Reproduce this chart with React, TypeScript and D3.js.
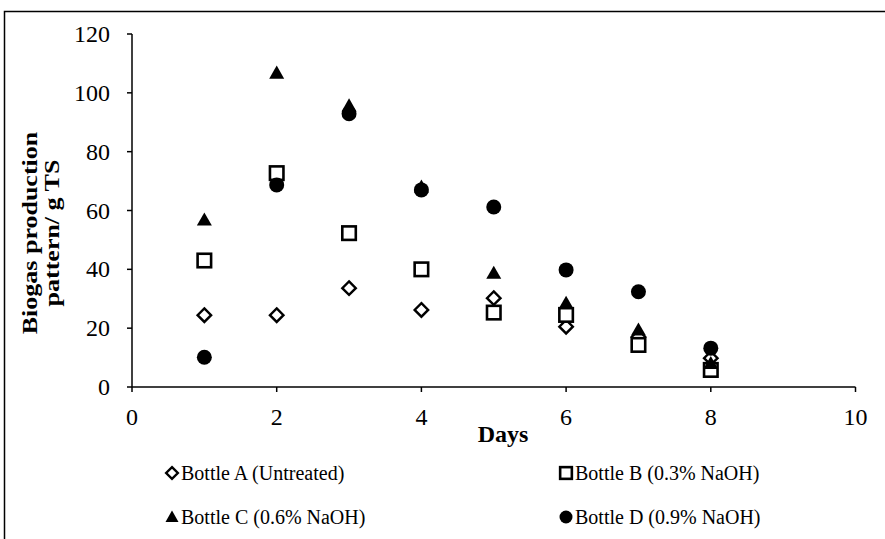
import * as React from "react";
import * as d3 from "d3";

// values
const days = [1, 2, 3, 4, 5, 6, 7, 8];
const bottleA = [24.4, 24.4, 33.6, 26.2, 30.2, 20.5, 17, 9.8];
const bottleB = [43, 72.7, 52.3, 40, 25.3, 24.5, 14.3, 5.8];
const bottleC = [56.8, 106.7, 95.6, 68, 38.7, 28.5, 19.4, 8];
const bottleD = [10.1, 68.7, 92.9, 67, 61.2, 39.8, 32.4, 13.2];
const seriesNames = [
  "Bottle A (Untreated)",
  "Bottle B (0.3%  NaOH)",
  "Bottle C (0.6%  NaOH)",
  "Bottle D (0.9%  NaOH)",
];
const seriesShapes = ["diamond", "square", "triangle", "circle"];
const xTicks = [0, 2, 4, 6, 8, 10];
const yTicks = [0, 20, 40, 60, 80, 100, 120];

const FONT = "'Liberation Serif', 'Times New Roman', serif";

function Marker({ shape, x, y, s }: { shape: string; x: number; y: number; s: number }) {
  if (shape === "diamond") {
    const r = s * 0.45;
    return (
      <path
        d={`M${x},${y - r}L${x + r},${y}L${x},${y + r}L${x - r},${y}Z`}
        fill="#fff"
        stroke="#000"
        strokeWidth={2.4}
      />
    );
  }
  if (shape === "square") {
    const h = s * 0.45;
    return <rect x={x - h} y={y - h} width={h * 2} height={h * 2} fill="#fff" stroke="#000" strokeWidth={2.6} />;
  }
  if (shape === "triangle") {
    const h = s * 0.5;
    return <path d={`M${x},${y - h}L${x + h},${y + h * 0.75}L${x - h},${y + h * 0.75}Z`} fill="#000" />;
  }
  return <circle cx={x} cy={y} r={s * 0.5} fill="#000" />;
}

// text stretched along its length, like the reference's title
function Stretched({ x, y, sx, anchor, size, bold, children }: any) {
  return (
    <g transform={`translate(${x},${y}) scale(${sx},1)`}>
      <text x={0} y={0} textAnchor={anchor || "start"} fontSize={size} fontWeight={bold ? "bold" : "normal"}>
        {children}
      </text>
    </g>
  );
}

export default function App() {
  const x = d3.scaleLinear().domain([0, 10]).range([132, 855.5]);
  const y = d3.scaleLinear().domain([0, 120]).range([387, 34]);
  const all = [bottleA, bottleB, bottleC, bottleD];

  return (
    <svg
      width={885}
      height={539}
      style={{ position: "absolute", left: 0, top: 0, background: "#fff" }}
      fontFamily={FONT}
    >
      <rect x={4.5} y={11.5} width={1000} height={700} fill="#fff" stroke="#000" strokeWidth={1.5} />

      {/* y axis */}
      <line x1={x(0)} x2={x(0)} y1={y(120)} y2={y(0)} stroke="#000" strokeWidth={1.5} />
      {yTicks.map((t) => (
        <g key={"y" + t}>
          <line x1={x(0) - 5} x2={x(0)} y1={y(t)} y2={y(t)} stroke="#000" strokeWidth={1.5} />
          <text x={110} y={y(t) + 8} textAnchor="end" fontSize={24}>
            {t}
          </text>
        </g>
      ))}

      {/* x axis */}
      <line x1={x(0)} x2={x(10)} y1={y(0)} y2={y(0)} stroke="#000" strokeWidth={1.5} />
      {xTicks.map((t) => (
        <g key={"x" + t}>
          <line x1={x(t)} x2={x(t)} y1={y(0)} y2={y(0) + 5} stroke="#000" strokeWidth={1.5} />
          <text x={x(t)} y={425} textAnchor="middle" fontSize={24}>
            {t}
          </text>
        </g>
      ))}

      <text x={503} y={442} textAnchor="middle" fontSize={24} fontWeight="bold">
        Days
      </text>
      <g transform="translate(0,233) rotate(-90)">
        <Stretched x={0} y={37} sx={1.3} anchor="middle" size={20} bold>
          Biogas production
        </Stretched>
        <Stretched x={0} y={59} sx={1.3} anchor="middle" size={20} bold>
          pattern/ g TS
        </Stretched>
      </g>

      {/* points */}
      {all.map((vals, si) =>
        vals.map((v, i) => (
          <Marker key={si + "-" + i} shape={seriesShapes[si]} x={x(days[i])} y={y(v)} s={15} />
        ))
      )}

      {/* legend */}
      {seriesNames.map((name, i) => {
        const lx = i % 2 === 0 ? 172 : 566;
        const ly = i < 2 ? 473 : 517;
        return (
          <g key={name}>
            <Marker shape={seriesShapes[i]} x={lx} y={ly} s={13} />
            <text x={lx + 9} y={ly + 7} fontSize={20}>
              {name}
            </text>
          </g>
        );
      })}
    </svg>
  );
}
